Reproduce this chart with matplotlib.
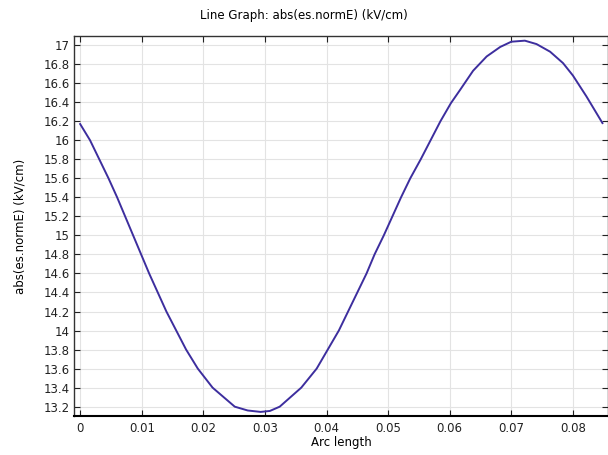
import numpy as np
import matplotlib
matplotlib.use("Agg")
import matplotlib.pyplot as plt

# arc length vs |E|
arc_length = [0.0, 0.0016, 0.0031, 0.0046, 0.0060, 0.0073, 0.0086, 0.0099,
              0.0112, 0.0126, 0.0140, 0.0156, 0.0172, 0.0191, 0.0215, 0.0251,
              0.0272, 0.0293, 0.0308, 0.0324, 0.0359, 0.0384, 0.0402, 0.0420,
              0.0435, 0.0450, 0.0465, 0.0478, 0.0493, 0.0507, 0.0521, 0.0536,
              0.0553, 0.0569, 0.0585, 0.0602, 0.0617, 0.0638, 0.0660, 0.0682,
              0.0700, 0.0722, 0.0741, 0.0763, 0.0784, 0.0800, 0.0822, 0.0848]
norm_e = [16.17, 16.0, 15.8, 15.6, 15.4, 15.2, 15.0, 14.8,
          14.6, 14.4, 14.2, 14.0, 13.8, 13.6, 13.4, 13.2,
          13.16, 13.145, 13.155, 13.2, 13.4, 13.6, 13.8, 14.0,
          14.2, 14.4, 14.6, 14.8, 15.0, 15.2, 15.4, 15.6,
          15.8, 16.0, 16.2, 16.39, 16.53, 16.73, 16.88, 16.98,
          17.035, 17.046, 17.01, 16.93, 16.81, 16.68, 16.46, 16.18]

x_ticks = [0, 0.01, 0.02, 0.03, 0.04, 0.05, 0.06, 0.07, 0.08]
x_tick_labels = ["0", "0.01", "0.02", "0.03", "0.04", "0.05", "0.06", "0.07", "0.08"]
y_ticks = np.round(np.arange(13.2, 17.01, 0.2), 1)

fig = plt.figure(figsize=(6.08, 4.55), dpi=100)
ax = fig.add_axes([74 / 608, 39 / 455, 534 / 608, 380 / 455])

ax.plot(arc_length, norm_e, color="#3d2e9e", lw=1.4)

ax.set_xlim(-0.001, 0.0857)
ax.set_ylim(13.102, 17.095)
ax.set_xticks(x_ticks)
ax.set_xticklabels(x_tick_labels)
ax.set_yticks(y_ticks)
ax.set_yticklabels([f"{v:g}" for v in y_ticks])
ax.tick_params(direction="in", top=True, right=True, length=4, width=0.8,
               labelsize=8.5, colors="#222222")
ax.tick_params(axis="x", pad=4)
ax.tick_params(axis="y", pad=3)
ax.grid(True, color="#e3e3e3", lw=0.8)
ax.set_axisbelow(True)
for s in ax.spines.values():
    s.set_linewidth(1.0)
    s.set_color("#333333")
ax.spines["bottom"].set_linewidth(1.5)
ax.spines["bottom"].set_color("black")

ax.set_xlabel("Arc length", fontsize=8.5, labelpad=1)
ax.set_ylabel("abs(es.normE) (kV/cm)", fontsize=8.5, labelpad=12)
fig.suptitle("Line Graph: abs(es.normE) (kV/cm)", fontsize=8.5, x=0.5, y=0.98)

fig.savefig("out.png", dpi=100)
